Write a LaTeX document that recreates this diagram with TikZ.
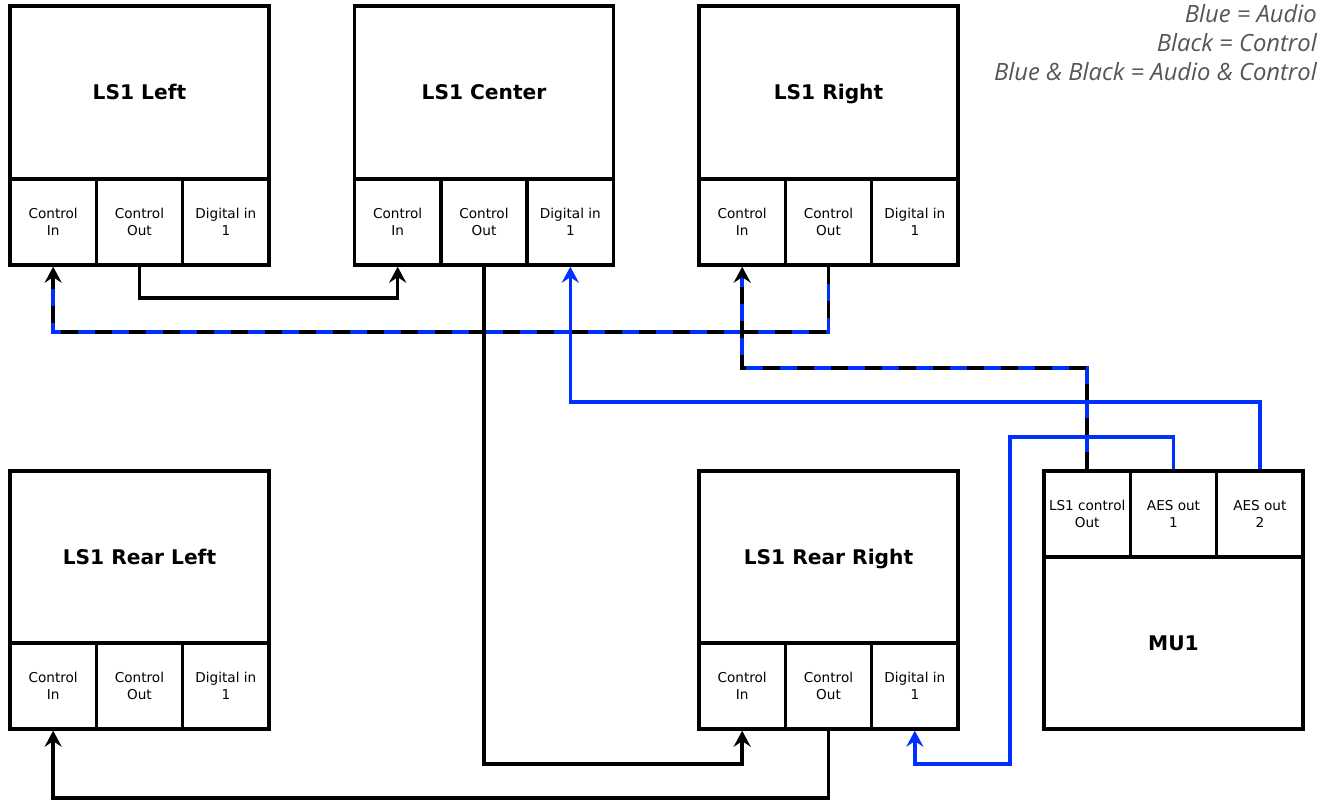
\documentclass[tikz,border=0pt]{standalone}
\usepackage{fontspec}
\newfontfamily\dvfont{DejaVu Sans}
\newfontfamily\osfont{Open Sans}
\usetikzlibrary{arrows.meta}
\definecolor{audioblue}{RGB}{0,48,255}
\definecolor{legendgray}{RGB}{85,85,85}
\begin{document}
\begin{tikzpicture}[x=1pt,y=-1pt,
  boxline/.style={draw=black,line width=3.4pt,inner sep=0pt},
  bodybox/.style={boxline,minimum width=259pt,minimum height=173pt,text height=14.7pt,text depth=0pt,font=\dvfont\bfseries\fontsize{20.2}{24}\selectfont},
  portbox/.style={boxline,minimum width=86.33pt,minimum height=86pt,align=center,font=\dvfont\fontsize{13.6}{17}\selectfont},
  ctrl/.style={draw=black,line width=3.4pt},
  audio/.style={draw=audioblue,line width=3.4pt},
  dashpart/.style={draw=black,line width=3.4pt,dash pattern=on 17pt off 17pt},
  tip/.style={-{Stealth[length=16pt,width=17pt,inset=5.5pt]}},
  legend/.style={anchor=base east,inner sep=0pt,text=legendgray,font=\osfont\itshape\fontsize{23.8}{27}\selectfont}
]
\useasboundingbox (0,0) rectangle (1327,802);
% ---------- LS1 Left ----------
\node[bodybox] (l) at (139.5,92.5) {LS1 Left};
\node[portbox] (l-in)  at (53.17,222) {Control\\In};
\node[portbox] (l-out) at (139.5,222) {Control\\Out};
\node[portbox] (l-dig) at (225.83,222) {Digital in\\1};
% ---------- LS1 Center ----------
\node[bodybox] (c) at (484,92.5) {LS1 Center};
\node[portbox] (c-in)  at (397.67,222) {Control\\In};
\node[portbox] (c-out) at (484,222) {Control\\Out};
\node[portbox] (c-dig) at (570.33,222) {Digital in\\1};
% ---------- LS1 Right ----------
\node[bodybox] (r) at (828.5,92.5) {LS1 Right};
\node[portbox] (r-in)  at (742.17,222) {Control\\In};
\node[portbox] (r-out) at (828.5,222) {Control\\Out};
\node[portbox] (r-dig) at (914.83,222) {Digital in\\1};
% ---------- LS1 Rear Left ----------
\node[bodybox,minimum height=172pt] (rl) at (139.5,557) {LS1 Rear Left};
\node[portbox] (rl-in)  at (53.17,686) {Control\\In};
\node[portbox] (rl-out) at (139.5,686) {Control\\Out};
\node[portbox] (rl-dig) at (225.83,686) {Digital in\\1};
% ---------- LS1 Rear Right ----------
\node[bodybox,minimum height=172pt] (rr) at (828.5,557) {LS1 Rear Right};
\node[portbox] (rr-in)  at (742.17,686) {Control\\In};
\node[portbox] (rr-out) at (828.5,686) {Control\\Out};
\node[portbox] (rr-dig) at (914.83,686) {Digital in\\1};
% ---------- MU1 ----------
\node[bodybox,minimum height=172pt] (mu) at (1173.5,643) {MU1};
\node[portbox] (mu-ctl)  at (1087.17,514) {LS1 control\\Out};
\node[portbox] (mu-aes1) at (1173.5,514) {AES out\\1};
\node[portbox] (mu-aes2) at (1259.83,514) {AES out\\2};
% ---------- legend ----------
\node[legend] (lg1) at (1317,23) {Blue = Audio};
\node[legend] (lg2) at (1317,52) {Black = Control};
\node[legend] (lg3) at (1317,81) {Blue \& Black = Audio \& Control};
% ---------- connectors ----------
\coordinate (y298) at (0,298);
\coordinate (y332) at (0,332);
\coordinate (y368) at (0,368);
\coordinate (y402) at (0,402);
\coordinate (y437) at (0,437);
\coordinate (y764) at (0,764);
\coordinate (y798) at (0,798);
\coordinate (x1010) at (1010,0);
% Left control out -> Center control in
\draw[ctrl,tip] (l-out.south) -- (l-out.south |- y298) -| (c-in.south);
% Right control out -> Left control in (audio & control)
\draw[audio,shorten >=9pt] (r-out.south) -- (r-out.south |- y332) -| (l-in.south);
\draw[dashpart,tip] (r-out.south) -- (r-out.south |- y332) -| (l-in.south);
% MU1 control out -> Right control in (audio & control)
\draw[audio,shorten >=9pt] (mu-ctl.north) -- (mu-ctl.north |- y368) -| (r-in.south);
\draw[dashpart,tip] (mu-ctl.north) -- (mu-ctl.north |- y368) -| (r-in.south);
% MU1 AES out 2 -> Center digital in
\draw[audio,tip] (mu-aes2.north) -- (mu-aes2.north |- y402) -| (c-dig.south);
% MU1 AES out 1 -> Rear Right digital in
\draw[audio,tip] (mu-aes1.north) -- (mu-aes1.north |- y437) -- (x1010 |- y437) -- (x1010 |- y764) -| (rr-dig.south);
% Center control out -> Rear Right control in
\draw[ctrl,tip] (c-out.south) -- (c-out.south |- y764) -| (rr-in.south);
% Rear Right control out -> Rear Left control in
\draw[ctrl,tip] (rr-out.south) -- (rr-out.south |- y798) -| (rl-in.south);
\end{tikzpicture}
\end{document}
